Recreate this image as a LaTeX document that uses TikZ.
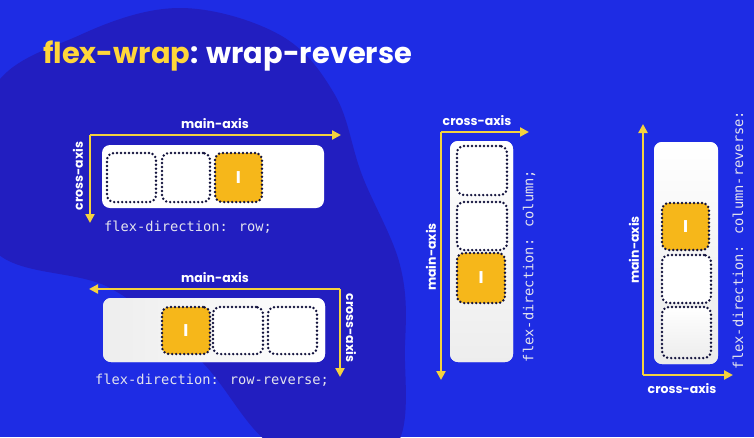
\documentclass[tikz,border=0pt]{standalone}
\usepackage{fontspec}
\usetikzlibrary{arrows.meta}
\newfontfamily\pop{Poppins}
\newfontfamily\monof{DejaVu Sans Mono}
\definecolor{bgblue}{RGB}{30,44,228}
\definecolor{blobblue}{RGB}{34,30,192}
\definecolor{axisy}{RGB}{244,210,62}
\definecolor{titley}{RGB}{255,214,58}
\definecolor{itemy}{RGB}{246,183,26}
\definecolor{navy}{RGB}{18,18,60}
\definecolor{codegray}{RGB}{228,228,238}
\tikzset{
  panel/.style={rounded corners=8pt, inner sep=0pt, fill=white},
  dotbox/.style={draw=navy, dash pattern=on 0pt off 4pt, line cap=round, line width=2.7pt, rounded corners=7pt, inner sep=0pt},
  emptyitem/.style={dotbox, fill=white},
  fullitem/.style={dotbox, fill=itemy, text=white, font=\pop\bfseries\fontsize{17}{17}\selectfont},
  axis/.style={draw=axisy, line width=2.6pt, -{Triangle[length=9pt,width=9pt]}},
  axlabel/.style={text=white, font=\pop\bfseries\fontsize{12.5}{12.5}\selectfont, inner sep=0pt},
  code/.style={text=codegray, font=\monof\fontsize{13.7}{14}\selectfont, inner sep=0pt}
}
\begin{document}
\begin{tikzpicture}[x=1pt,y=-1pt]
\useasboundingbox (0,0) rectangle (754,437);
\fill[bgblue] (0,0) rectangle (754,437);
\fill[blobblue] plot[smooth cycle, tension=0.6] coordinates {
  (-10,95) (80,35) (180,8) (280,35) (335,95) (362,175) (400,265) (405,345) (392,450)
  (280,450) (200,360) (110,288) (-10,245)};
% title
\node[anchor=base west, inner sep=0pt] (title) at (43,63)
  {\resizebox{369pt}{!}{\pop\bfseries\fontsize{30}{30}\selectfont\textcolor{titley}{flex-wrap}\textcolor{white}{: wrap-reverse}}};

% ---------- panel 1: row ----------
\node[panel, minimum width=222pt, minimum height=63pt] (b1) at (213,176.5) {};
\node[emptyitem, minimum width=49pt, minimum height=49pt] (i11) at (131.5,177.5) {};
\node[emptyitem, minimum width=48pt, minimum height=49pt] (i12) at (186,177.5) {};
\node[fullitem, minimum width=47pt, minimum height=49pt] (i13) at (238.5,177.5) {I};
\coordinate (o1) at (90,135);
\coordinate (m1) at (341,135);
\coordinate (c1) at (90,223);
\draw[axis] (o1) -- (m1);
\draw[axis] (o1) -- (c1);
\node[axlabel] (lm1) at (215,124) {main-axis};
\node[axlabel, rotate=90] (lc1) at (78,176) {cross-axis};
\node[code, anchor=west] (t1) at (104,227) {flex-direction: row;};

% ---------- panel 2: row-reverse ----------
\node[panel, minimum width=222pt, minimum height=64pt, left color=gray!14, right color=white] (b2) at (214,330) {};
\node[fullitem, minimum width=48pt, minimum height=47pt] (i21) at (186,330.5) {I};
\node[emptyitem, minimum width=50pt, minimum height=47pt] (i22) at (238,330.5) {};
\node[emptyitem, minimum width=49pt, minimum height=47pt] (i23) at (292.5,330.5) {};
\coordinate (o2) at (340,289);
\coordinate (m2) at (89,289);
\coordinate (c2) at (340,377);
\draw[axis] (o2) -- (m2);
\draw[axis] (o2) -- (c2);
\node[axlabel] (lm2) at (215,278) {main-axis};
\node[axlabel, rotate=-90] (lc2) at (351,328) {cross-axis};
\node[code, anchor=west] (t2) at (95,380) {flex-direction: row-reverse;};

% ---------- panel 3: column ----------
\node[panel, minimum width=63pt, minimum height=221pt, top color=white, bottom color=gray!14] (b3) at (481.5,251.5) {};
\node[emptyitem, minimum width=50pt, minimum height=49pt] (i31) at (482,170.5) {};
\node[emptyitem, minimum width=50pt, minimum height=48pt] (i32) at (482,226) {};
\node[fullitem, minimum width=48pt, minimum height=50pt] (i33) at (481,278) {I};
\coordinate (o3) at (441,132);
\coordinate (m3) at (441,380);
\coordinate (c3) at (529,132);
\draw[axis] (o3) -- (m3);
\draw[axis] (o3) -- (c3);
\node[axlabel] (lc3) at (477,121) {cross-axis};
\node[axlabel, rotate=90] (lm3) at (431,257) {main-axis};
\node[code, rotate=90] (t3) at (529,266) {flex-direction: column;};

% ---------- panel 4: column-reverse ----------
\node[panel, minimum width=64pt, minimum height=222pt, top color=white, bottom color=gray!16] (b4) at (686,253) {};
\node[fullitem, minimum width=47pt, minimum height=47pt] (i41) at (685.5,226.5) {I};
\node[emptyitem, minimum width=49pt, minimum height=48pt] (i42) at (686.5,279) {};
\node[emptyitem, minimum width=49pt, minimum height=51pt, top color=white, bottom color=gray!14] (i43) at (686.5,332.5) {};
\coordinate (o4) at (643,375);
\coordinate (m4) at (643,124);
\coordinate (c4) at (733,375);
\draw[axis] (o4) -- (m4);
\draw[axis] (o4) -- (c4);
\node[axlabel] (lc4) at (682,389) {cross-axis};
\node[axlabel, rotate=90] (lm4) at (634,250) {main-axis};
\node[code, rotate=90] (t4) at (738,240) {flex-direction: column-reverse:};
\end{tikzpicture}
\end{document}
